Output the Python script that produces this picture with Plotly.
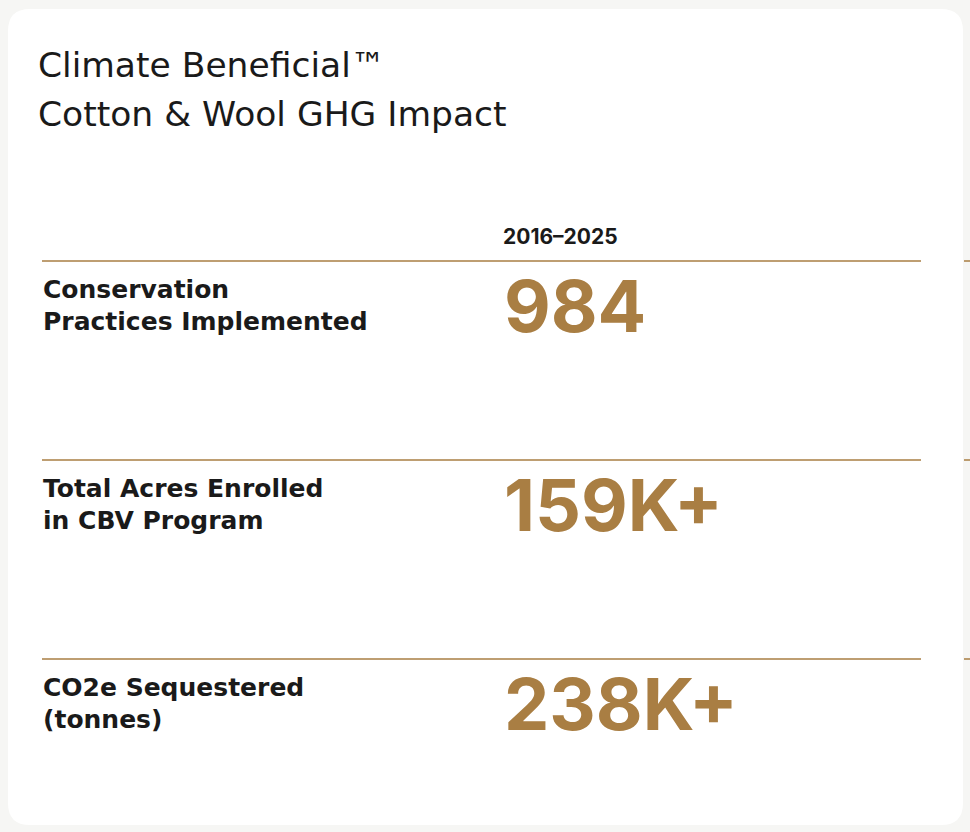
import plotly.graph_objects as go

title_lines = ["Climate Beneficial™", "Cotton &amp; Wool GHG Impact"]
period_label = "2016–2025"
metric_labels = [
    ["Conservation", "Practices Implemented"],
    ["Total Acres Enrolled", "in CBV Program"],
    ["CO2e Sequestered", "(tonnes)"],
]
metric_values = ["984", "159K+", "238K+"]

W, H = 970, 832
GOLD = "#A97E43"
BG = "#F6F6F4"
FONT = "Inter, 'Noto Sans', sans-serif"
WIDE = "'DejaVu Sans', sans-serif"

fig = go.Figure()

x0, y0, x1, y1, r = 8, 9, 963, 825, 22
path = (f"M {x0+r},{y0} L {x1-r},{y0} Q {x1},{y0} {x1},{y0+r} L {x1},{y1-r} "
        f"Q {x1},{y1} {x1-r},{y1} L {x0+r},{y1} Q {x0},{y1} {x0},{y1-r} "
        f"L {x0},{y0+r} Q {x0},{y0} {x0+r},{y0} Z")
shapes = [dict(type="path", path=path, xref="x", yref="y", fillcolor="white",
               line=dict(width=0), layer="below")]

annotations = []
for j, t in enumerate(title_lines):
    annotations.append(dict(x=36, y=65 + j * 49, xref="x", yref="y", xanchor="left", yanchor="middle",
                            text=t, showarrow=False,
                            font=dict(family=WIDE, size=34.5, color="#1a1a1a")))
annotations.append(dict(x=501, y=236, xref="x", yref="y", xanchor="left", yanchor="middle",
                        text=f"<b>{period_label}</b>", showarrow=False,
                        font=dict(family=FONT, size=21, color="#1a1a1a")))

row_top0, row_step = 261, 199
for i, (lab, val) in enumerate(zip(metric_labels, metric_values)):
    yl = row_top0 + i * row_step
    shapes.append(dict(type="line", x0=42, x1=921, y0=yl, y1=yl, xref="x", yref="y",
                       line=dict(color=GOLD, width=1.5)))
    shapes.append(dict(type="line", x0=964, x1=972, y0=yl, y1=yl, xref="x", yref="y",
                       line=dict(color=GOLD, width=1.5)))
    for j, t in enumerate(lab):
        annotations.append(dict(x=41, y=yl + 28 + j * 32, xref="x", yref="y", xanchor="left",
                                yanchor="middle", text=f"<b>{t}</b>", showarrow=False,
                                font=dict(family=WIDE, size=25, color="#1a1a1a")))
    annotations.append(dict(x=502, y=yl + 44, xref="x", yref="y", xanchor="left", yanchor="middle",
                            text=f"<b>{val}</b>", showarrow=False,
                            font=dict(family=FONT, size=72, color=GOLD)))

fig.update_layout(
    width=W, height=H, margin=dict(l=0, r=0, t=0, b=0),
    paper_bgcolor=BG, plot_bgcolor=BG,
    xaxis=dict(range=[0, W], visible=False, fixedrange=True),
    yaxis=dict(range=[H, 0], visible=False, fixedrange=True),
    shapes=shapes, annotations=annotations, showlegend=False,
)
fig.write_html("out.html", config={"displayModeBar": False},
               post_script="document.body.style.margin='0';document.body.style.background='#F6F6F4';")
